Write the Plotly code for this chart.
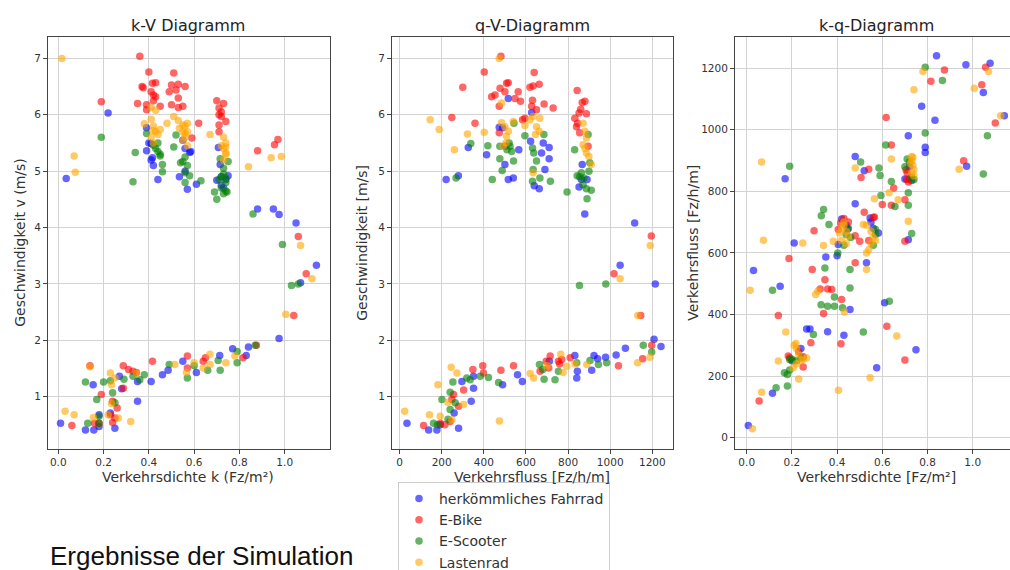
import plotly.graph_objects as go

W, H = 1010, 570

series_names = ["herkömmliches Fahrrad", "E-Bike", "E-Scooter", "Lastenrad"]
series_colors = ["blue", "red", "green", "orange"]

# ---- k-V Diagramm: (k [Fz/m²], v [m/s]) ----
kv_blue = [(0.035,4.87),(0.22,6.03),(0.40,5.5),(0.39,5.36),(0.416,5.24),(0.42,5.1),(0.44,4.85),
           (0.39,5.77),(0.41,5.49),(0.41,5.2),(0.56,5.4),(0.535,4.9),(0.56,5.0),(0.57,4.68),(0.58,5.33),
           (0.585,5.35),(0.61,4.77),(0.707,5.42),(0.715,5.12),(0.70,4.84),(0.72,4.75),(0.73,4.7),
           (0.75,4.92),(0.88,4.33),(0.95,4.33),(0.975,4.23),(1.05,4.08),
           (0.01,0.53),(0.12,0.41),(0.157,0.41),(0.18,0.68),(0.18,0.47),(0.154,1.21),(0.23,0.71),
           (0.25,0.44),(0.27,1.36),(0.35,0.92),(0.35,1.27),(0.41,1.27),(0.46,1.39),(0.485,1.47),
           (0.55,1.63),(0.61,1.43),(0.713,1.73),(0.77,1.85),(0.83,1.73),(0.84,1.88),(0.975,2.03),
           (1.07,3.02),(1.14,3.33),(0.28,1.14),(0.72,4.9),(0.74,4.85),(0.55,5.55)]
kv_ebike = [(0.36,7.04),(0.40,6.76),(0.37,6.5),(0.375,6.48),(0.416,6.56),(0.43,6.57),(0.41,6.41),
            (0.42,6.35),(0.43,6.32),(0.35,6.2),(0.39,6.18),(0.39,6.09),(0.45,6.15),(0.51,6.74),
            (0.50,6.53),(0.53,6.54),(0.56,6.5),(0.49,6.41),(0.52,6.44),(0.53,6.3),(0.50,6.18),
            (0.53,6.13),(0.55,6.15),(0.62,5.85),(0.59,5.59),(0.70,6.25),(0.73,6.2),(0.71,6.12),
            (0.71,6.0),(0.72,5.97),(0.74,5.88),(0.71,5.82),(0.71,5.7),(0.88,5.36),(0.955,5.47),
            (0.97,5.56),(0.19,6.23),(1.06,3.84),(1.095,3.18),(1.04,2.44),
            (0.14,1.55),(0.287,1.55),(0.31,1.48),(0.33,1.45),(0.345,1.43),(0.416,1.63),(0.19,1.04),
            (0.287,1.15),(0.26,0.8),(0.06,0.49),(0.16,0.53),(0.18,0.53),(0.24,0.54),(0.25,0.62),
            (0.23,0.68),(0.24,0.92),(0.57,1.72),(0.57,1.51),(0.65,1.69),(0.64,1.63),(0.816,1.69),
            (0.875,1.91),(0.42,6.25),(0.72,6.05)]
kv_escooter = [(0.19,5.6),(0.34,5.33),(0.33,4.81),(0.39,5.67),(0.42,5.46),(0.45,5.27),(0.46,4.99),
               (0.46,5.12),(0.51,5.43),(0.52,5.64),(0.55,5.17),(0.56,4.97),(0.56,4.8),(0.58,4.92),
               (0.63,4.83),(0.69,4.63),(0.70,4.5),(0.715,5.22),(0.73,5.05),(0.745,4.63),(0.74,4.88),
               (0.75,5.17),(0.86,4.24),(0.99,3.7),(0.72,4.9),(0.73,4.95),(0.74,4.8),(0.72,4.7),
               (0.74,4.65),(0.73,4.6),(0.71,4.85),(0.43,5.4),(0.44,5.35),(0.45,5.3),(0.44,5.5),
               (0.54,5.15),(0.56,5.25),(0.57,5.1),
               (1.03,2.97),(1.06,3.0),(0.12,1.26),(0.13,0.53),(0.17,0.95),(0.18,0.65),(0.18,0.53),
               (0.2,1.26),(0.23,1.28),(0.24,1.07),(0.25,0.89),(0.29,1.31),(0.33,1.36),(0.38,1.39),
               (0.49,1.57),(0.57,1.33),(0.66,1.47),(0.706,1.64),(0.715,1.47),(0.79,1.8),(0.79,1.6),
               (0.87,1.91),(0.36,1.3),(0.6,1.55)]
kv_lasten = [(0.016,7.0),(0.07,5.27),(0.075,4.98),(0.38,5.84),(0.41,6.13),(0.43,6.08),(0.41,5.92),
             (0.42,5.72),(0.45,5.74),(0.48,5.85),(0.51,5.97),(0.53,5.9),(0.535,5.76),(0.55,5.82),
             (0.56,5.67),(0.57,5.7),(0.57,5.45),(0.67,5.65),(0.73,5.6),(0.74,5.43),(0.74,5.32),
             (0.73,5.2),(0.84,5.08),(0.94,5.24),(0.985,5.26),(1.07,3.68),(0.41,5.6),(0.42,5.5),
             (0.42,5.8),(0.43,5.7),(0.44,5.65),(0.55,5.7),(0.56,5.8),(0.57,5.85),(0.55,5.55),
             (0.56,5.6),(0.73,5.4),(0.74,5.5),(0.74,5.3),(0.72,5.45),
             (0.03,0.74),(0.07,0.68),(0.14,1.53),(0.155,0.63),(0.22,0.68),(0.23,1.42),(0.235,1.21),
             (0.25,1.33),(0.265,0.62),(0.32,0.56),(0.345,1.42),(0.515,1.57),(0.566,1.43),(0.6,1.6),
             (0.64,1.51),(0.67,1.57),(0.67,1.75),(0.74,1.6),(0.78,1.72),(1.005,2.46),(1.12,3.09),
             (0.235,0.88)]

# ---- q-V-Diagramm: (q [Fz/h/m], v [m/s]) ----
qv_blue = [(221,4.85),(279,4.92),(326,5.42),(413,5.29),(473,5.78),(489,5.77),(516,6.29),(500,5.44),
           (500,5.12),(516,4.85),(540,4.88),(566,5.38),(622,5.53),(627,6.04),(639,4.74),(663,4.69),
           (674,5.32),(682,5.5),(710,5.42),(690,5.03),(710,5.22),(867,5.12),(863,4.85),(852,4.72),
           (890,4.85),(879,4.24),(1116,4.08),
           (35,0.53),(138,0.41),(177,0.41),(193,0.5),(259,0.71),(280,0.44),(296,1.27),(351,1.36),
           (351,1.15),(340,0.92),(489,1.21),(560,1.39),(583,1.27),(711,1.63),(832,1.73),(844,1.45),
           (841,1.33),(912,1.47),(923,1.73),(940,1.67),(978,1.7),(1028,1.74),(1072,1.86),(1047,3.33),
           (1214,3.0),(1208,2.02),(1241,1.89)]
qv_ebike = [(481,7.04),(402,6.76),(300,6.49),(248,5.95),(358,5.85),(437,6.32),(453,6.35),(477,6.47),
            (500,6.41),(516,6.57),(508,6.56),(548,6.29),(563,6.41),(574,6.24),(473,6.15),(595,5.94),
            (584,5.91),(473,5.68),(639,6.75),(619,6.49),(634,6.51),(663,6.54),(631,6.26),(627,6.15),
            (650,6.09),(686,6.19),(729,6.12),(843,6.43),(867,6.22),(880,6.24),(852,6.03),(887,6.02),
            (832,5.94),(840,5.79),(855,5.68),(895,5.44),(1195,3.85),(845,5.85),(860,6.1),
            (1018,3.18),(1145,2.44),(1197,1.91),(1154,1.67),(1039,1.55),
            (114,0.49),(193,0.53),(240,0.56),(256,1.04),(248,0.95),(280,0.83),(304,1.12),(348,1.48),
            (395,1.55),(398,1.42),(481,1.47),(541,1.55),(667,1.45),(696,1.63),(715,1.72),(708,1.51),
            (754,1.63),(770,1.66),(810,1.69),(215,0.5),(760,1.58)]
qv_escooter = [(268,4.88),(338,5.49),(419,5.45),(440,4.85),(476,5.44),(476,5.22),(487,5.01),(524,5.44),
               (532,5.35),(541,5.18),(543,5.85),(595,5.63),(631,5.41),(637,5.32),(634,5.03),(631,4.82),
               (650,5.18),(666,4.88),(685,5.65),(716,4.82),(795,4.63),(831,5.38),(843,4.92),(863,4.97),
               (871,4.76),(887,4.69),(890,4.51),(910,4.66),(899,5.0),(903,5.15),(895,5.65),
               (510,5.38),(520,5.5),(855,4.9),(875,4.88),
               (161,0.53),(201,0.95),(240,1.08),(253,1.26),(264,0.89),(240,0.77),(319,1.33),(335,1.3),
               (383,1.36),(422,1.34),(470,1.25),(664,1.57),(680,1.48),(686,1.31),(738,1.3),(754,1.45),
               (841,1.6),(904,1.64),(944,1.57),(983,1.6),(854,2.97),(979,3.0),(1157,1.91),(1197,1.79),
               (180,0.5),(230,0.6)]
qv_lasten = [(145,5.91),(188,5.74),(260,5.38),(322,5.66),(402,5.69),(473,7.0),(484,6.21),(484,5.86),
             (500,5.79),(516,5.71),(540,5.88),(508,5.62),(492,5.44),(595,5.81),(619,5.91),(634,5.97),
             (666,5.94),(650,5.79),(663,5.71),(634,4.97),(871,5.85),(880,5.71),(887,5.59),(871,5.47),
             (887,5.32),(899,5.26),(910,5.12),(1190,3.68),(505,5.5),(645,5.65),(880,5.4),
             (24,0.74),(142,0.68),(193,0.65),(182,1.21),(245,1.52),(272,1.42),(248,0.59),(304,0.86),
             (474,0.57),(620,1.41),(636,1.33),(833,1.58),(765,1.75),(776,1.43),(794,1.54),(889,1.57),
             (1130,1.6),(1189,1.7),(1131,2.44),(1047,3.09),(230,0.9),(700,1.55)]

# ---- k-q-Diagramm: (k [Fz/m²], q [Fz/h/m]) ----
kq_blue = [(0.84,1240),(0.97,1211),(1.077,1216),(1.047,1121),(0.774,1076),(0.833,1031),(1.14,1045),
           (0.715,980),(0.79,943),(0.79,926),(0.973,881),(0.48,913),(0.52,867),(0.48,760),(0.17,841),
           (0.03,543),(0.21,632),(0.35,587),(0.40,591),(0.447,678),(0.405,627),(0.457,416),(0.53,568),
           (0.546,713),(0.583,665),(0.61,438),(0.715,643),(0.358,344),(0.43,333),(0.265,353),
           (0.28,353),(0.148,492),(0.114,144),(0.007,40),(0.575,227),(0.749,286),
           (0.70,840),(0.72,880),(0.73,835),(0.42,710),(0.44,690),(0.55,700),(0.56,680),(0.2,250),
           (0.24,290)]
kq_ebike = [(0.875,1194),(0.815,1157),(1.057,1203),(1.04,1146),(1.1,1022),(0.617,1040),(0.64,950),
            (0.96,899),(0.506,845),(0.54,872),(0.6,757),(0.64,755),(0.65,811),(0.70,773),(0.70,638),
            (0.52,732),(0.565,717),(0.416,697),(0.405,676),(0.298,672),(0.48,656),(0.5,638),
            (0.187,582),(0.29,546),(0.346,513),(0.325,483),(0.358,483),(0.42,449),(0.48,568),
            (0.14,397),(0.34,403),(0.417,305),(0.62,362),(0.7,252),(0.184,265),(0.25,263),
            (0.284,308),(0.055,119),(0.376,481),(0.708,838),
            (0.71,860),(0.72,840),(0.715,830),(0.705,870),(0.45,700),(0.43,712),(0.56,715),
            (0.54,640),(0.23,280),(0.25,230),(0.19,260)]
kq_escooter = [(0.79,1203),(0.866,1160),(0.79,989),(1.065,980),(1.047,856),(0.615,950),(0.504,895),
               (0.585,876),(0.59,851),(0.64,832),(0.594,786),(0.656,751),(0.715,795),(0.715,755),
               (0.73,663),(0.19,881),(0.34,741),(0.33,721),(0.364,692),(0.403,600),(0.346,551),
               (0.457,546),(0.329,432),(0.358,427),(0.388,427),(0.424,422),(0.388,457),(0.457,486),
               (0.631,443),(0.516,343),(0.114,479),(0.295,335),(0.19,254),(0.167,211),(0.13,162),
               (0.18,168),(0.57,676),
               (0.71,905),(0.72,895),(0.73,845),(0.74,838),(0.70,880),(0.44,660),(0.46,650),
               (0.45,680),(0.43,625),(0.57,660),(0.56,625),(0.2,255),(0.22,250),(0.24,260),
               (0.19,220),(0.18,205)]
kq_lasten = [(0.78,1189),(1.07,1189),(0.74,1130),(1.007,1135),(1.124,1045),(0.94,872),(0.066,895),
             (0.48,876),(0.64,905),(0.67,773),(0.63,795),(0.565,776),(0.715,703),(0.73,913),
             (0.074,641),(0.248,632),(0.34,624),(0.383,638),(0.516,692),(0.53,546),(0.432,408),
             (0.305,465),(0.315,476),(0.015,479),(0.173,343),(0.14,249),(0.218,306),(0.23,191),
             (0.406,154),(0.546,195),(0.664,330),(0.066,148),(0.025,29),(0.206,227),(0.265,259),
             (0.73,900),(0.735,885),(0.74,870),(0.73,860),(0.725,890),(0.74,850),(0.735,910),
             (0.41,665),(0.42,680),(0.43,690),(0.44,670),(0.45,655),(0.42,640),(0.44,630),
             (0.43,700),(0.53,690),(0.55,670),(0.56,650),(0.55,630),(0.54,610),(0.57,640),
             (0.53,600),(0.21,300),(0.22,290),(0.23,270),(0.24,250),(0.22,240),(0.25,255)]

panel_titles = ["k-V Diagramm", "q-V-Diagramm", "k-q-Diagramm"]
x_titles = ["Verkehrsdichte k (Fz/m²)", "Verkehrsfluss [Fz/h/m]", "Verkehrsdichte [Fz/m²]"]
y_titles = ["Geschwindigkeit v (m/s)", "Geschwindigkeit [m/s]", "Verkehrsfluss [Fz/h/m]"]
x_ticks = [[0.0, 0.2, 0.4, 0.6, 0.8, 1.0], [0, 200, 400, 600, 800, 1000, 1200], [0.0, 0.2, 0.4, 0.6, 0.8, 1.0]]
y_ticks = [[1, 2, 3, 4, 5, 6, 7], [1, 2, 3, 4, 5, 6, 7], [0, 200, 400, 600, 800, 1000, 1200]]
footer_text = "Ergebnisse der Simulation"

panels = [
    [kv_blue, kv_ebike, kv_escooter, kv_lasten],
    [qv_blue, qv_ebike, qv_escooter, qv_lasten],
    [kq_blue, kq_ebike, kq_escooter, kq_lasten],
]

# layout geometry in pixels (left, right, top, bottom)
boxes = [(48, 330, 37, 448.5), (392, 673, 37, 448.5), (735, 1010, 37, 448.5)]
x_ranges = [[-0.0454, 1.2], [-36, 1298], [-0.0518, 1.165]]
y_ranges = [[0.08, 7.38], [0.08, 7.38], [-35, 1301]]
title_cx = [188, 532, 876]
ylab_x = [20, 362, 693]

FONT = "DejaVu Sans"
fig = go.Figure()

for p, data in enumerate(panels):
    ax = "" if p == 0 else str(p + 1)
    for s, pts in enumerate(data):
        fig.add_trace(go.Scatter(
            x=[a for a, b in pts], y=[b for a, b in pts],
            mode="markers", name=series_names[s],
            legendgroup=series_names[s], showlegend=(p == 1),
            marker=dict(color=series_colors[s], size=7.5, opacity=0.6, line=dict(width=0)),
            xaxis="x" + ax, yaxis="y" + ax,
        ))

layout = dict(
    width=W, height=H, autosize=False,
    margin=dict(l=0, r=0, t=0, b=0, autoexpand=False),
    paper_bgcolor="white", plot_bgcolor="white",
    font=dict(family=FONT, color="#333333", size=10.5),
    showlegend=True,
    legend=dict(x=398 / W, y=1 - 482 / H, xanchor="left", yanchor="top",
                bgcolor="white", bordercolor="#cccccc", borderwidth=1,
                font=dict(family=FONT, size=14, color="#333333"),
                tracegroupgap=0, itemsizing="trace"),
)
annotations = []
for p in range(3):
    l, r, t, b = boxes[p]
    ax = "" if p == 0 else str(p + 1)
    axis_common = dict(showline=True, linecolor="#444444", linewidth=1, mirror=True,
                       showgrid=True, gridcolor="#d3d3d3", gridwidth=1,
                       ticks="outside", ticklen=4, tickcolor="#444444",
                       zeroline=False, tickfont=dict(family=FONT, size=10.5, color="#333333"))
    xfmt = ".1f" if p != 1 else "d"
    layout["xaxis" + ax] = dict(domain=[l / W, r / W], range=x_ranges[p], anchor="y" + ax,
                                tickvals=x_ticks[p], tickformat=xfmt, **axis_common)
    layout["yaxis" + ax] = dict(domain=[1 - b / H, 1 - t / H], range=y_ranges[p], anchor="x" + ax,
                                tickvals=y_ticks[p], tickformat="d", **axis_common)
    annotations.append(dict(text=panel_titles[p], x=title_cx[p] / W, y=1 - 25 / H, xref="paper", yref="paper",
                            xanchor="center", yanchor="middle", showarrow=False,
                            font=dict(family=FONT, size=16, color="#222222")))
    annotations.append(dict(text=x_titles[p], x=title_cx[p] / W, y=1 - 477 / H, xref="paper", yref="paper",
                            xanchor="center", yanchor="middle", showarrow=False,
                            font=dict(family=FONT, size=14, color="#333333")))
    annotations.append(dict(text=y_titles[p], x=ylab_x[p] / W, y=1 - ((t + b) / 2) / H, xref="paper", yref="paper",
                            xanchor="center", yanchor="middle", showarrow=False, textangle=-90,
                            font=dict(family=FONT, size=14, color="#333333")))
annotations.append(dict(text=footer_text, x=48 / W, y=1 - 556 / H, xref="paper", yref="paper",
                        xanchor="left", yanchor="middle", showarrow=False,
                        font=dict(family="Liberation Sans", size=26, color="#111111")))
layout["annotations"] = annotations
fig.update_layout(**layout)

fig.write_html("out.html", config={"responsive": False, "displayModeBar": False},
               default_width="1010px", default_height="570px",
               post_script="document.body.style.margin='0';document.body.style.padding='0';document.body.style.overflow='hidden';")
